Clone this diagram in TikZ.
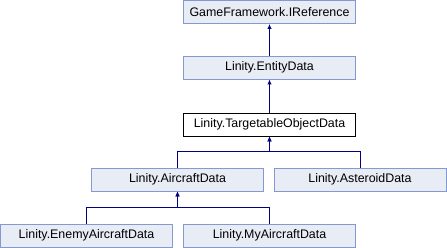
\documentclass[tikz,border=0pt]{standalone}
\usepackage{fontspec}
\setmainfont{Liberation Sans}
\definecolor{boxfill}{RGB}{232,236,244}
\definecolor{boxline}{RGB}{132,154,206}
\definecolor{linkblue}{RGB}{0,0,128}
\tikzset{
  cls/.style={draw=boxline, fill=boxfill, line width=0.9pt, minimum width=172pt,
    minimum height=23pt, inner sep=0pt, font=\fontsize{12.4}{14}\selectfont},
  current/.style={cls, draw=black, fill=white},
  inherit/.style={draw=linkblue, line width=1pt, -{Latex[length=5pt,width=4.5pt]}}
}
\usetikzlibrary{arrows.meta}
\begin{document}
\begin{tikzpicture}[x=1pt,y=1pt]
        \useasboundingbox (0,0) rectangle (447,248);
        % class boxes, one row per level
        \node (iref)     at (269.5, 236.0) [cls]     {GameFramework.IReference};
        \node (entity)   at (269.5, 180.5) [cls]     {Linity.EntityData};
        \node (target)   at (269.5, 123.5) [current] {Linity.TargetableObjectData};
        \node (aircraft) at (177.5,  68.5) [cls]     {Linity.AircraftData};
        \node (asteroid) at (360.0,  68.5) [cls]     {Linity.AsteroidData};
        \node (enemy)    at ( 86.5,  12.5) [cls]     {Linity.EnemyAircraftData};
        \node (myac)     at (269.5,  12.5) [cls]     {Linity.MyAircraftData};

        % inheritance links
        \draw [inherit] (entity) -- (iref);
        \draw [inherit] (target) -- (entity);
        \draw [inherit] (aircraft.north) -- ++(0,16) -| (target.south);
        \draw [inherit] (asteroid.north) -- ++(0,16) -| (target.south);
        \draw [inherit] (enemy.north) -- ++(0,16) -| (aircraft.south);
        \draw [inherit] (myac.north) -- ++(0,16) -| (aircraft.south);
      \end{tikzpicture}
\end{document}
